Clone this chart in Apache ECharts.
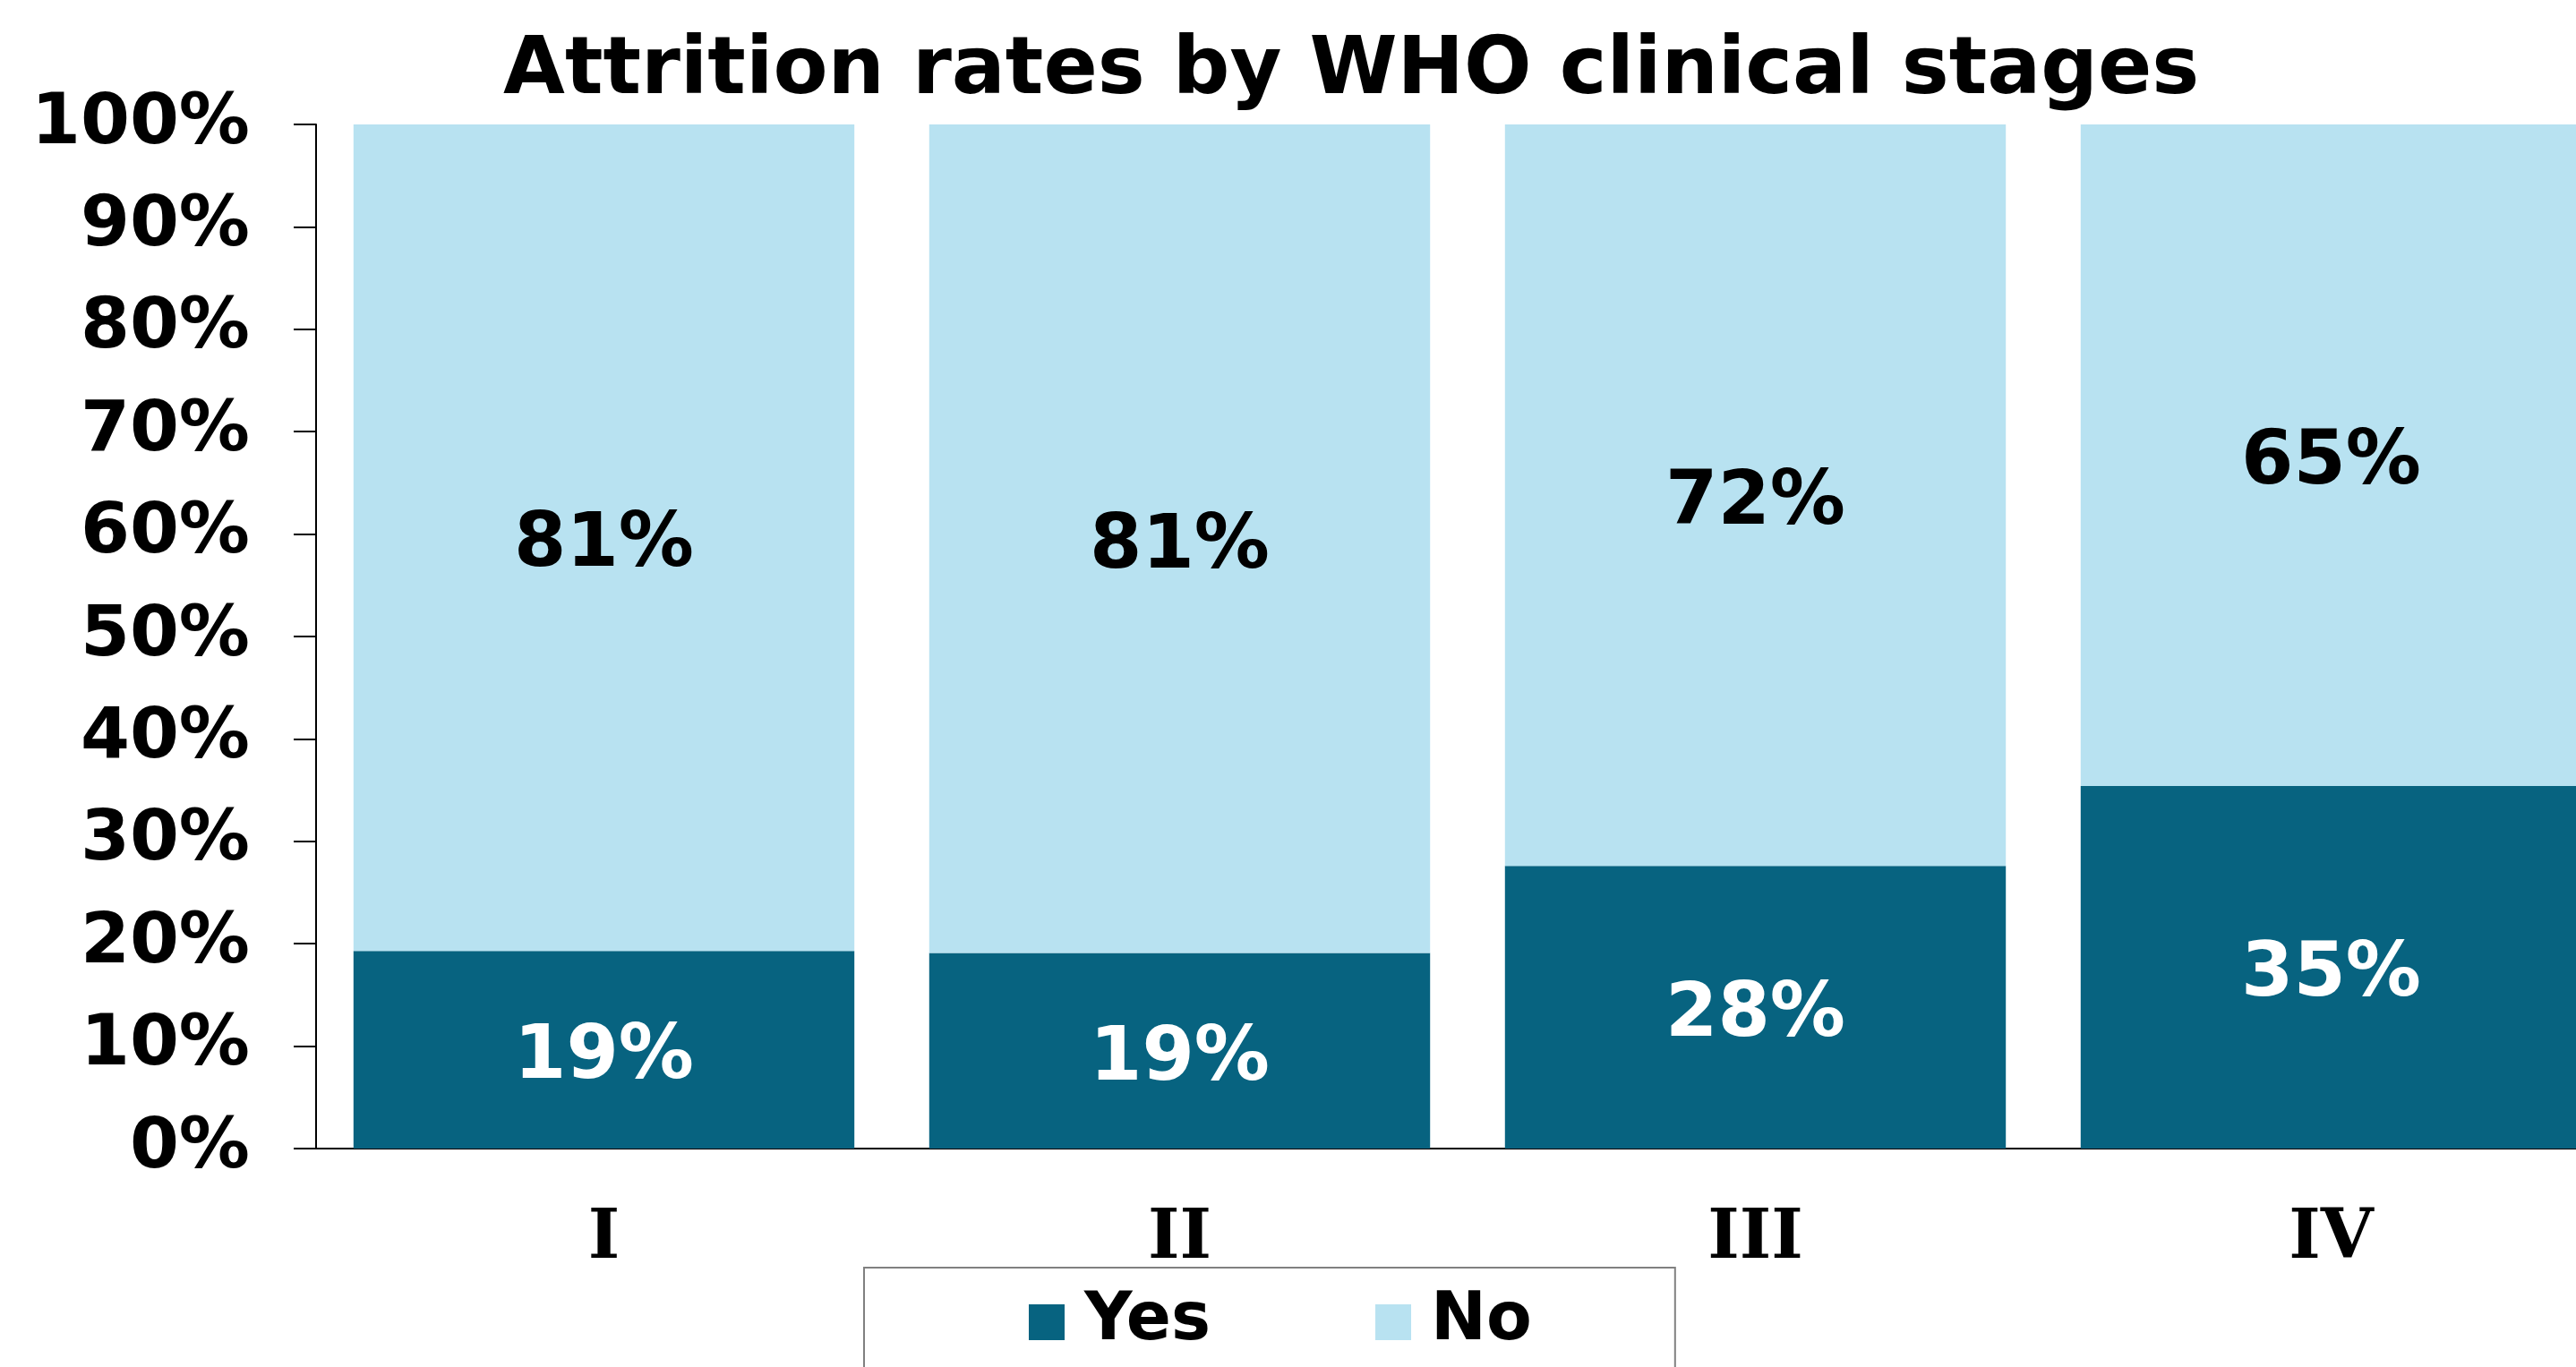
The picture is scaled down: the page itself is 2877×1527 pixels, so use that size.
<!DOCTYPE html>
<html>
<head>
<meta charset="utf-8">
<script src="https://cdn.jsdelivr.net/npm/echarts@6/dist/echarts.min.js"></script>
<style>
  html, body { margin: 0; padding: 0; background: #fff; }
  #chart { width: 2877px; height: 1527px; }
</style>
</head>
<body>
<div id="chart"></div>
<script>
var stages = ['I', 'II', 'III', 'IV'];
var yesVals = [19.3, 19.1, 27.6, 35.4];
var noVals = [80.7, 80.9, 72.4, 64.6];
var yTicks = [0, 10, 20, 30, 40, 50, 60, 70, 80, 90, 100];

var darkBlue = '#076380';
var lightBlue = '#b8e2f1';
var font = 'DejaVu Sans';

var chart = echarts.init(document.getElementById('chart'));
var pct = function (p) { return Math.round(p.value) + '%'; };

var option = {
  backgroundColor: '#fff',
  animation: false,
  title: {
    text: 'Attrition rates by WHO clinical stages',
    left: 562,
    top: 36,
    padding: 0,
    textStyle: { fontFamily: font, fontWeight: 'bold', fontSize: 89, color: '#000' }
  },
  legend: {
    data: ['Yes', 'No'],
    left: 965,
    top: 1416,
    padding: [24, 160, 80, 184],
    borderColor: '#808080',
    borderWidth: 2,
    itemWidth: 40,
    itemHeight: 40,
    itemGap: 184,
    icon: 'rect',
    textStyle: { fontFamily: font, fontWeight: 'bold', fontSize: 74, color: '#000', padding: [0, 0, 0, 17] }
  },
  grid: {
    left: 353,
    top: 139,
    width: 2572,
    height: 1144,
    containLabel: false,
    outerBoundsMode: 'none'
  },
  xAxis: {
    type: 'category',
    data: stages,
    axisLine: { lineStyle: { color: '#000', width: 2 } },
    axisTick: { alignWithLabel: true, length: 19, lineStyle: { color: '#000', width: 2 } },
    axisLabel: { fontFamily: 'DejaVu Serif', fontWeight: 'bold', fontSize: 76, color: '#000', margin: 64 }
  },
  yAxis: {
    type: 'value',
    min: yTicks[0],
    max: yTicks[yTicks.length - 1],
    interval: 10,
    axisLine: { show: true, lineStyle: { color: '#000', width: 2 } },
    axisTick: { show: true, length: 25, lineStyle: { color: '#000', width: 2 } },
    splitLine: { show: false },
    axisLabel: { formatter: '{value}%', fontFamily: font, fontWeight: 'bold', fontSize: 79, color: '#000', margin: 74 }
  },
  series: [
    {
      name: 'Yes',
      type: 'bar',
      stack: 'total',
      barCategoryGap: '13%',
      data: yesVals,
      itemStyle: { color: darkBlue },
      label: { show: true, position: 'inside', offset: [0, 10], formatter: pct, fontFamily: font, fontWeight: 'bold', fontSize: 84, color: '#fff' }
    },
    {
      name: 'No',
      type: 'bar',
      stack: 'total',
      barCategoryGap: '13%',
      data: noVals,
      itemStyle: { color: lightBlue },
      label: { show: true, position: 'inside', offset: [0, 10], formatter: pct, fontFamily: font, fontWeight: 'bold', fontSize: 84, color: '#000' }
    }
  ]
};
chart.setOption(option);
</script>
</body>
</html>
